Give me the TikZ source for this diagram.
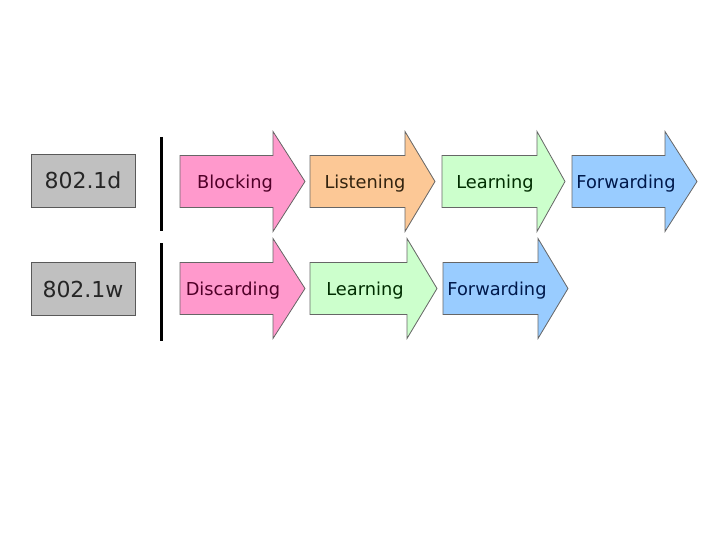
\documentclass[tikz,border=0pt]{standalone}
\usepackage{fontspec}
\setmainfont{DejaVu Sans}
\definecolor{pinkf}{RGB}{255,153,204}
\definecolor{peachf}{RGB}{252,200,150}
\definecolor{greenf}{RGB}{204,255,204}
\definecolor{bluef}{RGB}{153,204,255}
\definecolor{grayf}{RGB}{192,192,192}
\definecolor{pinkt}{RGB}{80,0,40}
\definecolor{peacht}{RGB}{50,35,15}
\definecolor{greent}{RGB}{0,45,0}
\definecolor{bluet}{RGB}{0,25,75}
\newcommand\stagearrow[9]{%
  % #1 name, #2 fill, #3 left, #4 head base, #5 tip, #6 row center y, #7 text x, #8 text colour, #9 text
  \draw[arrowline, fill=#2] (#3,#6-26) -- (#4,#6-26) -- (#4,#6-50) -- (#5,#6) -- (#4,#6+50) -- (#4,#6+26) -- (#3,#6+26) -- cycle;
  \node[stagetext, text=#8] (#1) at (#7,#6+2.5) {#9};
}
\begin{document}
\begin{tikzpicture}[x=1pt,y=-1pt,
  arrowline/.style={draw=black!60, line width=0.8pt, line join=miter},
  stagetext/.style={font=\fontsize{17.8}{20}\selectfont, inner sep=0pt},
  stdbox/.style={draw=black!65, fill=grayf, line width=0.9pt, minimum width=104pt, minimum height=53pt, font=\fontsize{22}{26}\selectfont, text=black!85, inner sep=0pt},
  sepline/.style={line width=3pt, black}]
\useasboundingbox[fill=white] (0,0) rectangle (720,540);
\node[stdbox] (d) at (83,180.5) {\raisebox{-2pt}{802.1d}};
\node[stdbox] (w) at (83,289) {\raisebox{-2pt}{802.1w}};
\coordinate (s1a) at (161,137);
\coordinate (s1b) at (161,231);
\coordinate (s2a) at (161,243);
\coordinate (s2b) at (161,341);
\draw[sepline] (s1a) -- (s1b);
\draw[sepline] (s2a) -- (s2b);
\stagearrow{blk}{pinkf}{180}{273}{305}{181.5}{235}{pinkt}{Blocking}
\stagearrow{lst}{peachf}{310}{405}{435}{181.5}{365}{peacht}{Listening}
\stagearrow{lrn1}{greenf}{442}{537}{565}{181.5}{495}{greent}{Learning}
\stagearrow{fwd1}{bluef}{572}{665}{697}{181.5}{626}{bluet}{Forwarding}
\stagearrow{dsc}{pinkf}{180}{273}{305}{288.5}{233}{pinkt}{Discarding}
\stagearrow{lrn2}{greenf}{310}{407}{437}{288.5}{365}{greent}{Learning}
\stagearrow{fwd2}{bluef}{443}{538}{568}{288.5}{497}{bluet}{Forwarding}
\end{tikzpicture}
\end{document}
